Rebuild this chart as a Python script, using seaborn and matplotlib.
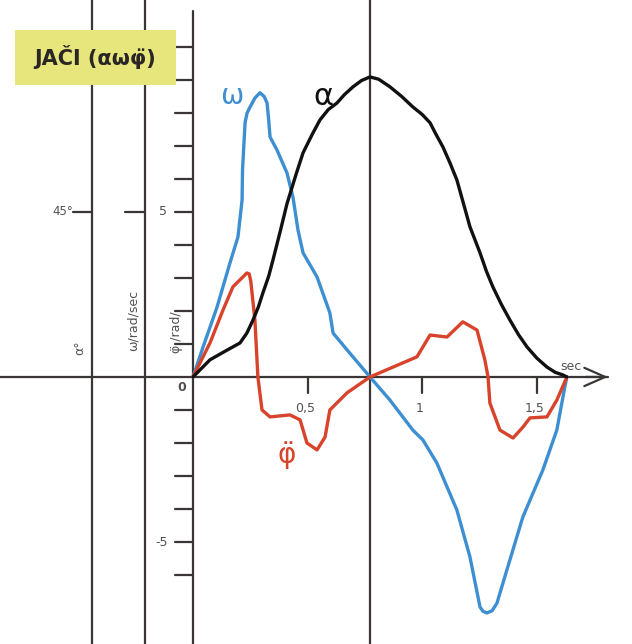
import matplotlib
matplotlib.use("Agg")
import matplotlib.pyplot as plt
from matplotlib.patches import Rectangle
import seaborn as sns
import pandas as pd

# ---- data ----
alpha_t = [0, 0.04, 0.074, 0.14, 0.205, 0.235, 0.262, 0.285, 0.305, 0.33, 0.349, 0.38, 0.41,
           0.45, 0.48, 0.52, 0.554, 0.59, 0.628, 0.66, 0.698, 0.735, 0.772, 0.81, 0.859,
           0.91, 0.959, 1.0, 1.034, 1.06, 1.09, 1.12, 1.151, 1.18, 1.208, 1.252, 1.28,
           1.308, 1.345, 1.382, 1.42, 1.457, 1.50, 1.544, 1.58, 1.614, 1.631]
alpha_v = [0, 0.28, 0.52, 0.78, 1.03, 1.33, 1.73, 2.12, 2.55, 3.05, 3.55, 4.4, 5.25,
           6.15, 6.79, 7.35, 7.79, 8.1, 8.30, 8.55, 8.79, 8.98, 9.09, 9.02, 8.79,
           8.5, 8.18, 7.95, 7.70, 7.35, 6.97, 6.5, 5.97, 5.25, 4.55, 3.76, 3.2,
           2.73, 2.2, 1.73, 1.28, 0.91, 0.57, 0.30, 0.14, 0.06, 0]

omega_t = [0, 0.044, 0.105, 0.161, 0.196, 0.214, 0.216, 0.227, 0.236, 0.249, 0.27, 0.292, 0.31,
           0.323, 0.33, 0.336, 0.366, 0.410, 0.436, 0.458, 0.480, 0.541, 0.597, 0.611,
           0.672, 0.772, 0.859, 0.959, 1.003, 1.064, 1.151, 1.208, 1.252, 1.265, 1.282,
           1.305, 1.326, 1.369, 1.439, 1.526, 1.587, 1.622, 1.631]
omega_v = [0, 0.91, 2.12, 3.45, 4.24, 5.36, 6.27, 7.70, 8.0, 8.18, 8.45, 8.61, 8.5,
           8.30, 7.8, 7.27, 6.88, 6.18, 5.45, 4.45, 3.76, 3.03, 1.94, 1.33,
           0.82, 0, -0.70, -1.61, -1.91, -2.61, -4.03, -5.45, -6.97, -7.1, -7.15,
           -7.08, -6.85, -5.85, -4.24, -2.82, -1.61, -0.30, 0]

phi_t = [0, 0.074, 0.131, 0.174, 0.235, 0.245, 0.252, 0.270, 0.283, 0.301, 0.336, 0.423, 0.467,
         0.497, 0.541, 0.576, 0.597, 0.672, 0.772, 0.977, 1.034, 1.108, 1.177, 1.239, 1.273,
         1.287, 1.295, 1.339, 1.396, 1.439, 1.470, 1.544, 1.587, 1.631]
phi_v = [0, 1.03, 2.03, 2.73, 3.15, 3.12, 2.9, 1.73, 0, -1.0, -1.21, -1.15, -1.30,
         -2.0, -2.21, -1.82, -1.0, -0.48, 0, 0.61, 1.27, 1.21, 1.67, 1.42, 0.52,
         0, -0.79, -1.61, -1.85, -1.52, -1.24, -1.21, -0.70, 0]

x_tick_vals = [0.5, 1, 1.5]
x_tick_labels = ["0,5", "1", "1,5"]
y_tick_vals = [10, 9, 8, 7, 6, 5, 4, 3, 2, 1, -1, -2, -3, -4, -5, -6]

title = "JAČI (αωφ̈)"

# ---- styling ----
AX = "#3b3636"
TXT = "#555050"
BLUE = "#3d8fd1"
RED = "#d8432b"
BLACK = "#111111"

sns.set_style("white")
plt.rcParams['font.family'] = ['DejaVu Sans']

fig = plt.figure(figsize=(6.32, 6.44), dpi=100)
ax = fig.add_axes([0, 0, 1, 1])
ax.set_xlim(-0.842, 1.915)
ax.set_ylim(-8.09, 11.42)
ax.axis("off")

# vertical axis lines
ax.axvline(-0.440, color=AX, lw=1.6, zorder=1)
ax.axvline(-0.209, color=AX, lw=1.6, zorder=1)
ax.plot([0, 0], [-8.2, 11.1], color=AX, lw=1.6, zorder=1)
ax.axvline(0.772, color=AX, lw=1.6, zorder=1)

# horizontal axis with arrow
ax.plot([-0.85, 1.81], [0, 0], color=AX, lw=1.6, zorder=1)
ax.annotate("", xy=(1.822, 0), xytext=(1.70, 0),
            arrowprops=dict(arrowstyle="->,head_length=0.75,head_width=0.33",
                            color=AX, lw=1.6, mutation_scale=20))

# ticks on main vertical axis
for v in y_tick_vals:
    ax.plot([-0.078, 0], [v, v], color=AX, lw=1.6, zorder=1)
# ticks on alpha and omega axes (45 deg mark)
ax.plot([-0.523, -0.440], [5, 5], color=AX, lw=1.6, zorder=1)
ax.plot([-0.297, -0.209], [5, 5], color=AX, lw=1.6, zorder=1)
# x ticks
for t in x_tick_vals:
    ax.plot([t, t], [0, -0.48], color=AX, lw=1.6, zorder=1)

# curves
df_a = pd.DataFrame({"t": alpha_t, "v": alpha_v})
df_o = pd.DataFrame({"t": omega_t, "v": omega_v})
df_p = pd.DataFrame({"t": phi_t, "v": phi_v})
kw = dict(x="t", y="v", sort=False, estimator=None, ax=ax, lw=2.4, zorder=3)
sns.lineplot(data=df_o, color=BLUE, **kw)
sns.lineplot(data=df_p, color=RED, **kw)
sns.lineplot(data=df_a, color=BLACK, **kw)
for l in ax.lines:
    l.set_solid_joinstyle("round")
    l.set_solid_capstyle("round")

# tick labels
for t, s in zip(x_tick_vals, x_tick_labels):
    ax.text(t - 0.01, -0.95, s, ha="center", va="center", fontsize=9, color=TXT)
ax.text(-0.13, 5, "5", ha="center", va="center", fontsize=9, color=TXT)
ax.text(-0.05, -0.33, "0", ha="center", va="center", fontsize=9, color=TXT, fontweight="bold")
ax.text(-0.135, -5, "-5", ha="center", va="center", fontsize=9, color=TXT)
ax.text(-0.525, 5.02, "45°", ha="right", va="center", fontsize=8.5, color=TXT)
ax.text(1.65, 0.33, "sec", ha="center", va="center", fontsize=9, color=TXT)

# axis names
ax.text(-0.495, 0.9, "α°", rotation=90, ha="center", va="center", fontsize=9, color=TXT)
ax.text(-0.262, 1.7, "ω/rad/sec", rotation=90, ha="center", va="center", fontsize=9, color=TXT)
ax.text(-0.07, 1.35, "φ̈ /rad/", rotation=90, ha="center", va="center", fontsize=9, color=TXT)

# curve names
ax.text(0.17, 8.5, "ω", ha="center", va="center", fontsize=20, color=BLUE)
ax.text(0.57, 8.5, "α", ha="center", va="center", fontsize=22, color=BLACK)
ax.text(0.41, -2.35, "φ̈", ha="center", va="center", fontsize=20, color=RED)

# title box
ax.add_patch(Rectangle((-0.776, 8.85), 0.70, 1.67, facecolor="#e7e67c",
                       edgecolor="none", zorder=5))
ax.text(-0.427, 9.68, title, ha="center", va="center", fontsize=15,
        fontweight="bold", color="#2a2626", zorder=6)

fig.savefig("out.png", dpi=100, facecolor="white")
